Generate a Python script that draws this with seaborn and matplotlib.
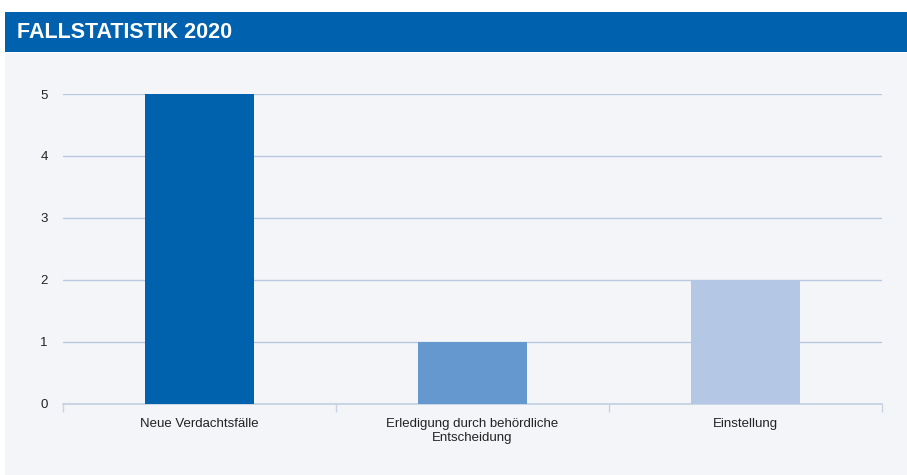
import numpy as np
import pandas as pd
import matplotlib
matplotlib.use('Agg')
import matplotlib.pyplot as plt
from matplotlib.patches import Rectangle
import seaborn as sns

# Chart data
categories = ['Neue Verdachtsfälle', 'Erledigung durch behördliche\nEntscheidung', 'Einstellung']
values = [5, 1, 2]
bar_colors = ['#0061AD', '#6598CE', '#B4C8E6']
title = 'FALLSTATISTIK 2020'

sns.set_theme(style='white')
plt.rcParams['font.family'] = ['Liberation Sans', 'DejaVu Sans']

df = pd.DataFrame({'category': categories, 'value': values})

fig = plt.figure(figsize=(9.07, 4.75), dpi=100)
fig.patch.set_facecolor('white')

# light panel and header band
fig.patches.append(Rectangle((0.0055, 0), 0.9945, 0.888, transform=fig.transFigure,
                             facecolor='#F4F5F9', edgecolor='none', zorder=-2))
fig.patches.append(Rectangle((0.0055, 0.8905), 0.9945, 0.0842, transform=fig.transFigure,
                             facecolor='#0062AE', edgecolor='none', zorder=-2))
fig.text(0.019, 0.932, title, color='white', fontsize=15.5, fontweight='bold',
         va='center', ha='left')

ax = fig.add_axes([0.0695, 0.1495, 0.9029, 0.6526])
ax.set_facecolor('none')
ax.set_zorder(1)
sns.barplot(data=df, x='category', y='value', hue='category', palette=bar_colors,
            width=0.4, legend=False, saturation=1, linewidth=0, ax=ax, zorder=3)

ax.set_ylim(0, 5)
ax.set_xlim(-0.5, 2.5)
ax.set_yticks(range(0, 6))
ax.yaxis.grid(True, color='#B8C8DE', linewidth=1)
ax.set_axisbelow(True)
for s in ['top', 'right', 'left']:
    ax.spines[s].set_visible(False)
ax.spines['bottom'].set_color('#C2D0E2')
ax.spines['bottom'].set_linewidth(1.2)

# category boundary ticks on x
ax.set_xticks([-0.5, 0.5, 1.5, 2.5], minor=True)
ax.tick_params(axis='x', which='minor', length=6, color='#C8D4E4', width=1, bottom=True)
ax.tick_params(axis='x', which='major', length=0, pad=10, labelsize=9.5, labelcolor='#222222')
ax.tick_params(axis='y', length=0, pad=11, labelsize=9.5, labelcolor='#222222')
ax.set_xlabel('')
ax.set_ylabel('')

plt.savefig('out.png', dpi=100, facecolor='white')
